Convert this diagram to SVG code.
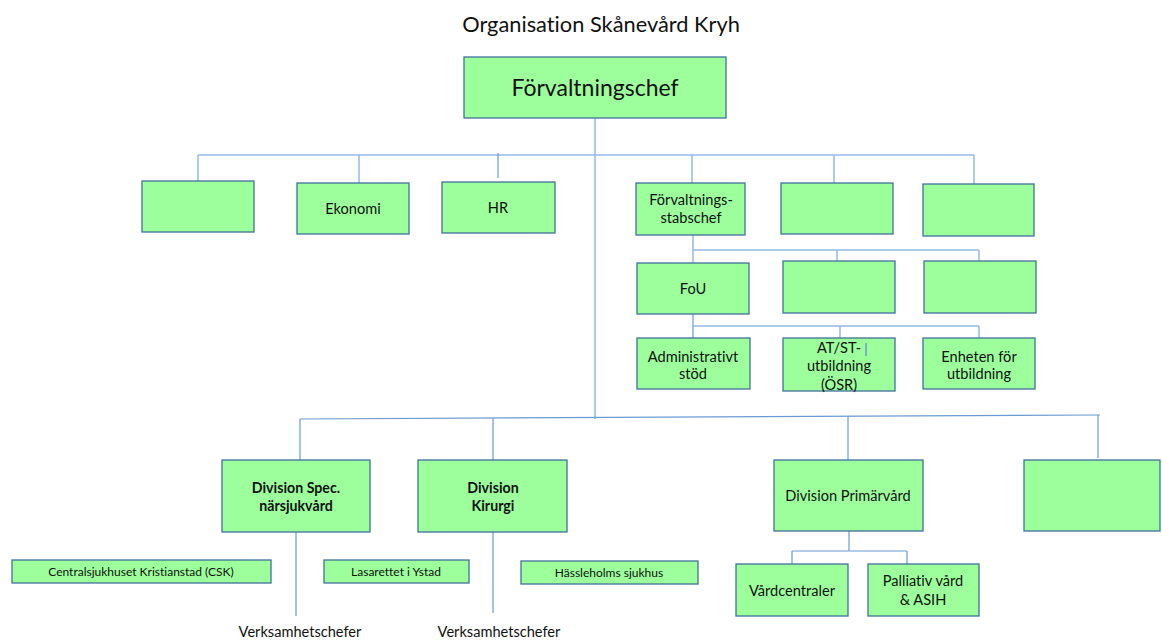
<svg xmlns="http://www.w3.org/2000/svg" width="1162" height="640" viewBox="0 0 1162 640">
<style>
.box{fill:#9CFF9C;stroke:#41719C;stroke-width:1.3}
.c1{stroke:#93B9E6;stroke-width:1.5;fill:none}
.c2{stroke:#6A9BD3;stroke-width:1.2;fill:none}
text{font-family:Lato,"Liberation Sans",sans-serif;fill:#111;text-anchor:middle;font-variant-ligatures:none}
.t14{font-size:14.6px}
.t13b{font-size:14.2px;font-weight:bold}
.t10{font-size:12px}
</style>
<rect width="1162" height="640" fill="#fff"/>
<text x="601" y="32" style="font-size:21.8px">Organisation Skånevård Kryh</text>
<g id="connectors">
<line class="c1" x1="595" y1="118" x2="595" y2="419"/>
<line class="c1" x1="198" y1="155" x2="974" y2="155"/>
<line class="c1" x1="198" y1="155" x2="198" y2="181"/>
<line class="c1" x1="359" y1="155" x2="359" y2="183"/>
<line class="c2" x1="498" y1="153" x2="498" y2="178"/>
<line class="c1" x1="692" y1="155" x2="692" y2="183"/>
<line class="c1" x1="834" y1="155" x2="834" y2="183"/>
<line class="c1" x1="974" y1="155" x2="974" y2="184"/>
<line class="c1" x1="693" y1="235" x2="693" y2="263"/>
<line class="c1" x1="693" y1="250" x2="979" y2="250"/>
<line class="c1" x1="837" y1="250" x2="837" y2="261"/>
<line class="c1" x1="979" y1="250" x2="979" y2="261"/>
<line class="c2" x1="693" y1="314" x2="693" y2="338"/>
<line class="c1" x1="693" y1="326" x2="979" y2="326"/>
<line class="c1" x1="840" y1="326" x2="840" y2="338"/>
<line class="c1" x1="979" y1="326" x2="979" y2="338"/>
<line class="c2" x1="300" y1="419" x2="1100" y2="415"/>
<line class="c2" x1="300" y1="419" x2="300" y2="460"/>
<line class="c2" x1="493" y1="418" x2="493" y2="460"/>
<line class="c2" x1="848" y1="416" x2="848" y2="460"/>
<line class="c2" x1="1098" y1="415" x2="1098" y2="458"/>
<line class="c2" x1="296" y1="532" x2="296" y2="616"/>
<line class="c2" x1="493" y1="532" x2="493" y2="613"/>
<line class="c2" x1="849" y1="531" x2="849" y2="551"/>
<line class="c2" x1="792" y1="551" x2="907" y2="551"/>
<line class="c2" x1="792" y1="551" x2="792" y2="564"/>
<line class="c2" x1="907" y1="551" x2="907" y2="564"/>
</g>
<g id="n-forvaltningschef"><rect class="box" x="464" y="57" width="262" height="61"/><text x="595" y="96" style="font-size:23px">Förvaltningschef</text></g>
<g id="n-blank1"><rect class="box" x="142" y="181" width="112" height="51"/></g>
<g id="n-ekonomi"><rect class="box" x="297" y="183" width="112" height="51"/><text class="t14" x="353" y="214">Ekonomi</text></g>
<g id="n-hr"><rect class="box" x="442" y="182" width="113" height="51"/><text class="t14" x="498" y="213">HR</text></g>
<g id="n-stabschef"><rect class="box" x="636" y="183" width="109" height="52"/><text class="t14" x="691" y="205">Förvaltnings-</text><text class="t14" x="691" y="223">stabschef</text></g>
<g id="n-blank2"><rect class="box" x="781" y="183" width="112" height="51"/></g>
<g id="n-blank3"><rect class="box" x="923" y="184" width="111" height="52"/></g>
<g id="n-fou"><rect class="box" x="637" y="263" width="112" height="51"/><text class="t14" x="693" y="294">FoU</text></g>
<g id="n-blank4"><rect class="box" x="783" y="261" width="112" height="52"/></g>
<g id="n-blank5"><rect class="box" x="924" y="261" width="112" height="52"/></g>
<g id="n-admin"><rect class="box" x="637" y="338" width="113" height="51"/><text class="t14" x="693" y="362">Administrativt</text><text class="t14" x="693" y="379">stöd</text></g>
<g id="n-atst"><rect class="box" x="783" y="338" width="112" height="53"/><text class="t14" x="839" y="353">AT/ST-</text><text class="t14" x="839" y="371">utbildning</text><text class="t14" x="839" y="390">(ÖSR)</text><line x1="866" y1="343" x2="866" y2="356" stroke="#6A9BD3" stroke-width="1.5"/></g>
<g id="n-enheten"><rect class="box" x="923" y="338" width="112" height="51"/><text class="t14" x="979" y="362">Enheten för</text><text class="t14" x="979" y="379">utbildning</text></g>
<g id="n-divspec"><rect class="box" x="222" y="460" width="148" height="72"/><text class="t13b" x="296" y="493">Division Spec.</text><text class="t13b" x="296" y="511">närsjukvård</text></g>
<g id="n-divkir"><rect class="box" x="418" y="460" width="149" height="72"/><text class="t13b" x="493" y="493">Division</text><text class="t13b" x="493" y="511">Kirurgi</text></g>
<g id="n-divprim"><rect class="box" x="774" y="460" width="149" height="71"/><text class="t14" x="848" y="501">Division Primärvård</text></g>
<g id="n-blank6"><rect class="box" x="1024" y="460" width="136" height="71"/></g>
<g id="n-csk"><rect class="box" x="12" y="560" width="259" height="23"/><text class="t10" x="141" y="576">Centralsjukhuset Kristianstad (CSK)</text></g>
<g id="n-ystad"><rect class="box" x="324" y="560" width="145" height="23"/><text class="t10" x="396" y="576">Lasarettet i Ystad</text></g>
<g id="n-hassleholm"><rect class="box" x="521" y="561" width="177" height="23"/><text class="t10" x="609" y="577">Hässleholms sjukhus</text></g>
<g id="n-vardcentraler"><rect class="box" x="736" y="564" width="112" height="52"/><text class="t14" x="792" y="596">Vårdcentraler</text></g>
<g id="n-palliativ"><rect class="box" x="868" y="564" width="111" height="52"/><text class="t14" x="923" y="586">Palliativ vård</text><text class="t14" x="923" y="605">&amp; ASIH</text></g>
<g id="n-vc1"><text class="t14" x="300" y="637">Verksamhetschefer</text></g>
<g id="n-vc2"><text class="t14" x="499" y="637">Verksamhetschefer</text></g>
</svg>
